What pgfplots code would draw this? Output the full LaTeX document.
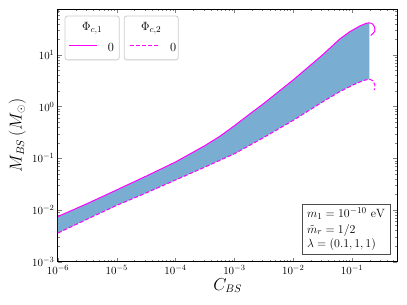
\documentclass[border=0pt]{standalone}
\usepackage{pgfplots}
\pgfplotsset{compat=1.18}
\definecolor{bsfill}{RGB}{121,173,210}
\definecolor{magc}{RGB}{255,0,255}
\begin{document}
\begin{tikzpicture}
\useasboundingbox (-58bp,-43.3bp) rectangle (349bp,261.7bp);
\begin{axis}[at={(0,0)}, anchor=south west,
  scale only axis, width=339.3bp, height=252.4bp,
  xmode=log, ymode=log,
  xmin=1e-6, xmax=0.59, ymin=1e-3, ymax=76,
  axis line style={line width=1bp},
  major tick length=4bp, minor tick length=2bp,
  tick label style={font=\fontsize{11}{13}\selectfont},
  xlabel={$C_{BS}$}, ylabel={$M_{BS}\,(M_\odot)$},
  label style={font=\fontsize{16}{18}\selectfont},
  xlabel style={at={(axis description cs:0.5,-0.095)}, anchor=center},
  ylabel style={at={(axis description cs:-0.12,0.5)}, anchor=center},
]
\addplot[fill=bsfill, draw=none, forget plot] coordinates {
(1e-6,7.499e-3) (3.162e-6,1.334e-2) (1e-5,2.449e-2) (3.162e-5,4.519e-2) (1e-4,8.492e-2)
(3.162e-4,0.1762) (5.623e-4,0.2649) (1e-3,0.4256) (1.778e-3,0.7031) (3.162e-3,1.148)
(1e-2,3.273) (3.162e-2,10.0)
(0.06252,20.42) (0.09247,28.18) (0.1368,36.31) (0.1778,41.02) (0.1968,41.50)
(0.1968,3.388) (0.1556,3.184) (0.1052,2.630) (0.06252,1.954) (3.162e-2,1.230)
(1e-2,0.5408) (3.162e-3,0.2523) (1e-3,0.1222) (3.162e-4,6.761e-2) (1e-4,3.802e-2)
(3.162e-5,2.138e-2) (1e-5,1.230e-2) (3.162e-6,6.683e-3) (1e-6,3.589e-3)
};
\addplot[color=magc, line width=1bp] coordinates {
(1e-6,7.499e-3) (3.162e-6,1.334e-2) (1e-5,2.449e-2) (3.162e-5,4.519e-2) (1e-4,8.492e-2)
(3.162e-4,0.1762) (5.623e-4,0.2649) (1e-3,0.4256) (1.778e-3,0.7031) (3.162e-3,1.148)
(1e-2,3.273) (3.162e-2,10.0)
(0.06252,20.42) (0.09247,28.18) (0.1368,36.31) (0.1778,41.02) (0.1968,41.50)
(0.2080,41.02) (0.2239,39.36) (0.2366,36.31) (0.2460,31.41) (0.2427,28.18)
(0.2301,26.24) (0.2080,23.60)
};
\addplot[color=magc, line width=1bp, dash pattern=on 4bp off 2bp] coordinates {
(1e-6,3.589e-3) (3.162e-6,6.683e-3) (1e-5,1.230e-2) (3.162e-5,2.138e-2) (1e-4,3.802e-2)
(3.162e-4,6.761e-2) (1e-3,0.1222) (3.162e-3,0.2523) (1e-2,0.5408) (3.162e-2,1.230)
(0.06252,1.954) (0.1052,2.630) (0.1556,3.184) (0.1968,3.388) (0.2249,3.184)
(0.2460,2.630) (0.2393,2.109)
};
\node[draw=black!70, line width=0.8bp, fill=white, align=left, anchor=south east, inner xsep=5bp, inner ysep=3.5bp,
  font=\fontsize{13}{13.5}\selectfont] at (axis description cs:0.98,0.0285)
  {$m_1 = 10^{-10}\ \mathrm{eV}$\\[2bp] $\tilde{m}_r = 1/2$\\[1bp] $\lambda = (0.1, 1, 1)$};
\end{axis}
% legends (two boxes, as in the reference)
\begin{scope}[font=\fontsize{12.5}{14}\selectfont]
\draw[black!20, fill=white, line width=0.8bp, rounded corners=2.5bp] (7bp,201.8bp) rectangle (61.3bp,245.7bp);
\node[anchor=base, inner sep=0pt] at (34.2bp,230.7bp) {$\Phi_{c,1}$};
\draw[magc, line width=1bp] (11.3bp,216.4bp) -- (39.3bp,216.4bp);
\node[anchor=base west, inner sep=0pt] at (49.7bp,210.4bp) {0};
\draw[black!20, fill=white, line width=0.8bp, rounded corners=2.5bp] (66.3bp,201.8bp) rectangle (120.3bp,245.7bp);
\node[anchor=base, inner sep=0pt] at (93.2bp,230.7bp) {$\Phi_{c,2}$};
\draw[magc, line width=1bp, dash pattern=on 4bp off 2bp] (72bp,216.4bp) -- (100.3bp,216.4bp);
\node[anchor=base west, inner sep=0pt] at (112bp,210.4bp) {0};
\end{scope}
\end{tikzpicture}
\end{document}
